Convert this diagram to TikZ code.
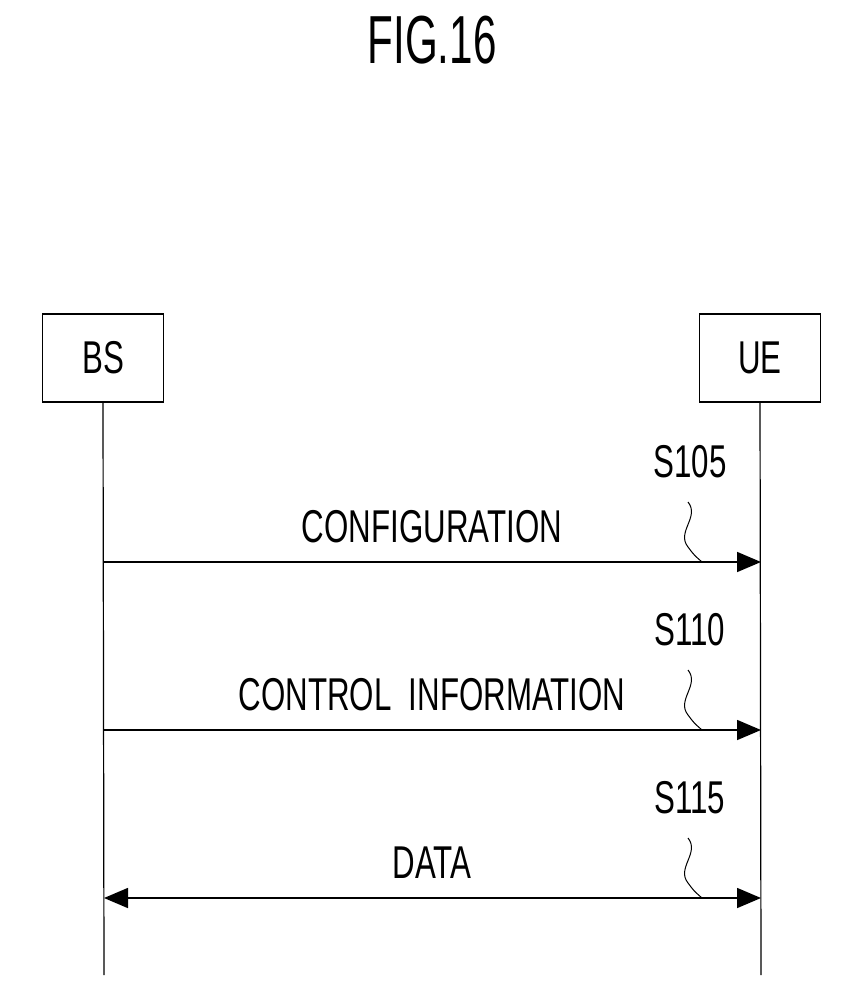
\documentclass[tikz,border=0pt]{standalone}
\usepackage{fontspec}
\setmainfont{Liberation Sans}
\usetikzlibrary{arrows.meta}
\begin{document}
\begin{tikzpicture}[x=0.5pt,y=-0.5pt,
  box/.style={draw,line width=0.6pt,minimum width=89pt,minimum height=44pt,inner sep=0},
  lbl/.style={font=\fontsize{23}{26}\selectfont,xscale=0.68},
  life/.style={line width=0.6pt},
  msg/.style={line width=0.8pt,-{Triangle[length=12pt,width=10pt]}},
  msgb/.style={line width=0.8pt,{Triangle[length=12pt,width=10pt]}-{Triangle[length=12pt,width=10pt]}},
  sq/.style={line width=0.5pt}]
\useasboundingbox (0,0) rectangle (858,999);
\node[font=\fontsize{34}{38}\selectfont,xscale=0.62] (title) at (432,40) {FIG.16};
\node[box,lbl] (bs) at (103,358) {BS};
\node[box,lbl] (ue) at (760,358) {UE};
\coordinate (bsend) at (104,975);
\coordinate (ueend) at (761,975);
\draw[life] (bs.south) -- (bsend);
\draw[life] (ue.south) -- (ueend);
\foreach \y/\t/\s/\n in {562/CONFIGURATION/S105/a,730/CONTROL\ \ INFORMATION/S110/b,898/DATA/S115/c}{
  \coordinate (l\n) at (104,\y);
  \coordinate (r\n) at (761,\y);
  \node[lbl] (t\n) at (432,\y-35) {\t};
  \node[lbl] (s\n) at (690,\y-100) {\s};
  \coordinate (q\n) at (688,\y-60);
  \coordinate (e\n) at (702,\y);
  \draw[sq] (q\n) .. controls (700,\y-45) and (676,\y-30) .. (688,\y-15) .. controls (694,\y-7) .. (e\n);
}
\draw[msg] (la) -- (ra);
\draw[msg] (lb) -- (rb);
\draw[msgb] (lc) -- (rc);
\end{tikzpicture}
\end{document}
